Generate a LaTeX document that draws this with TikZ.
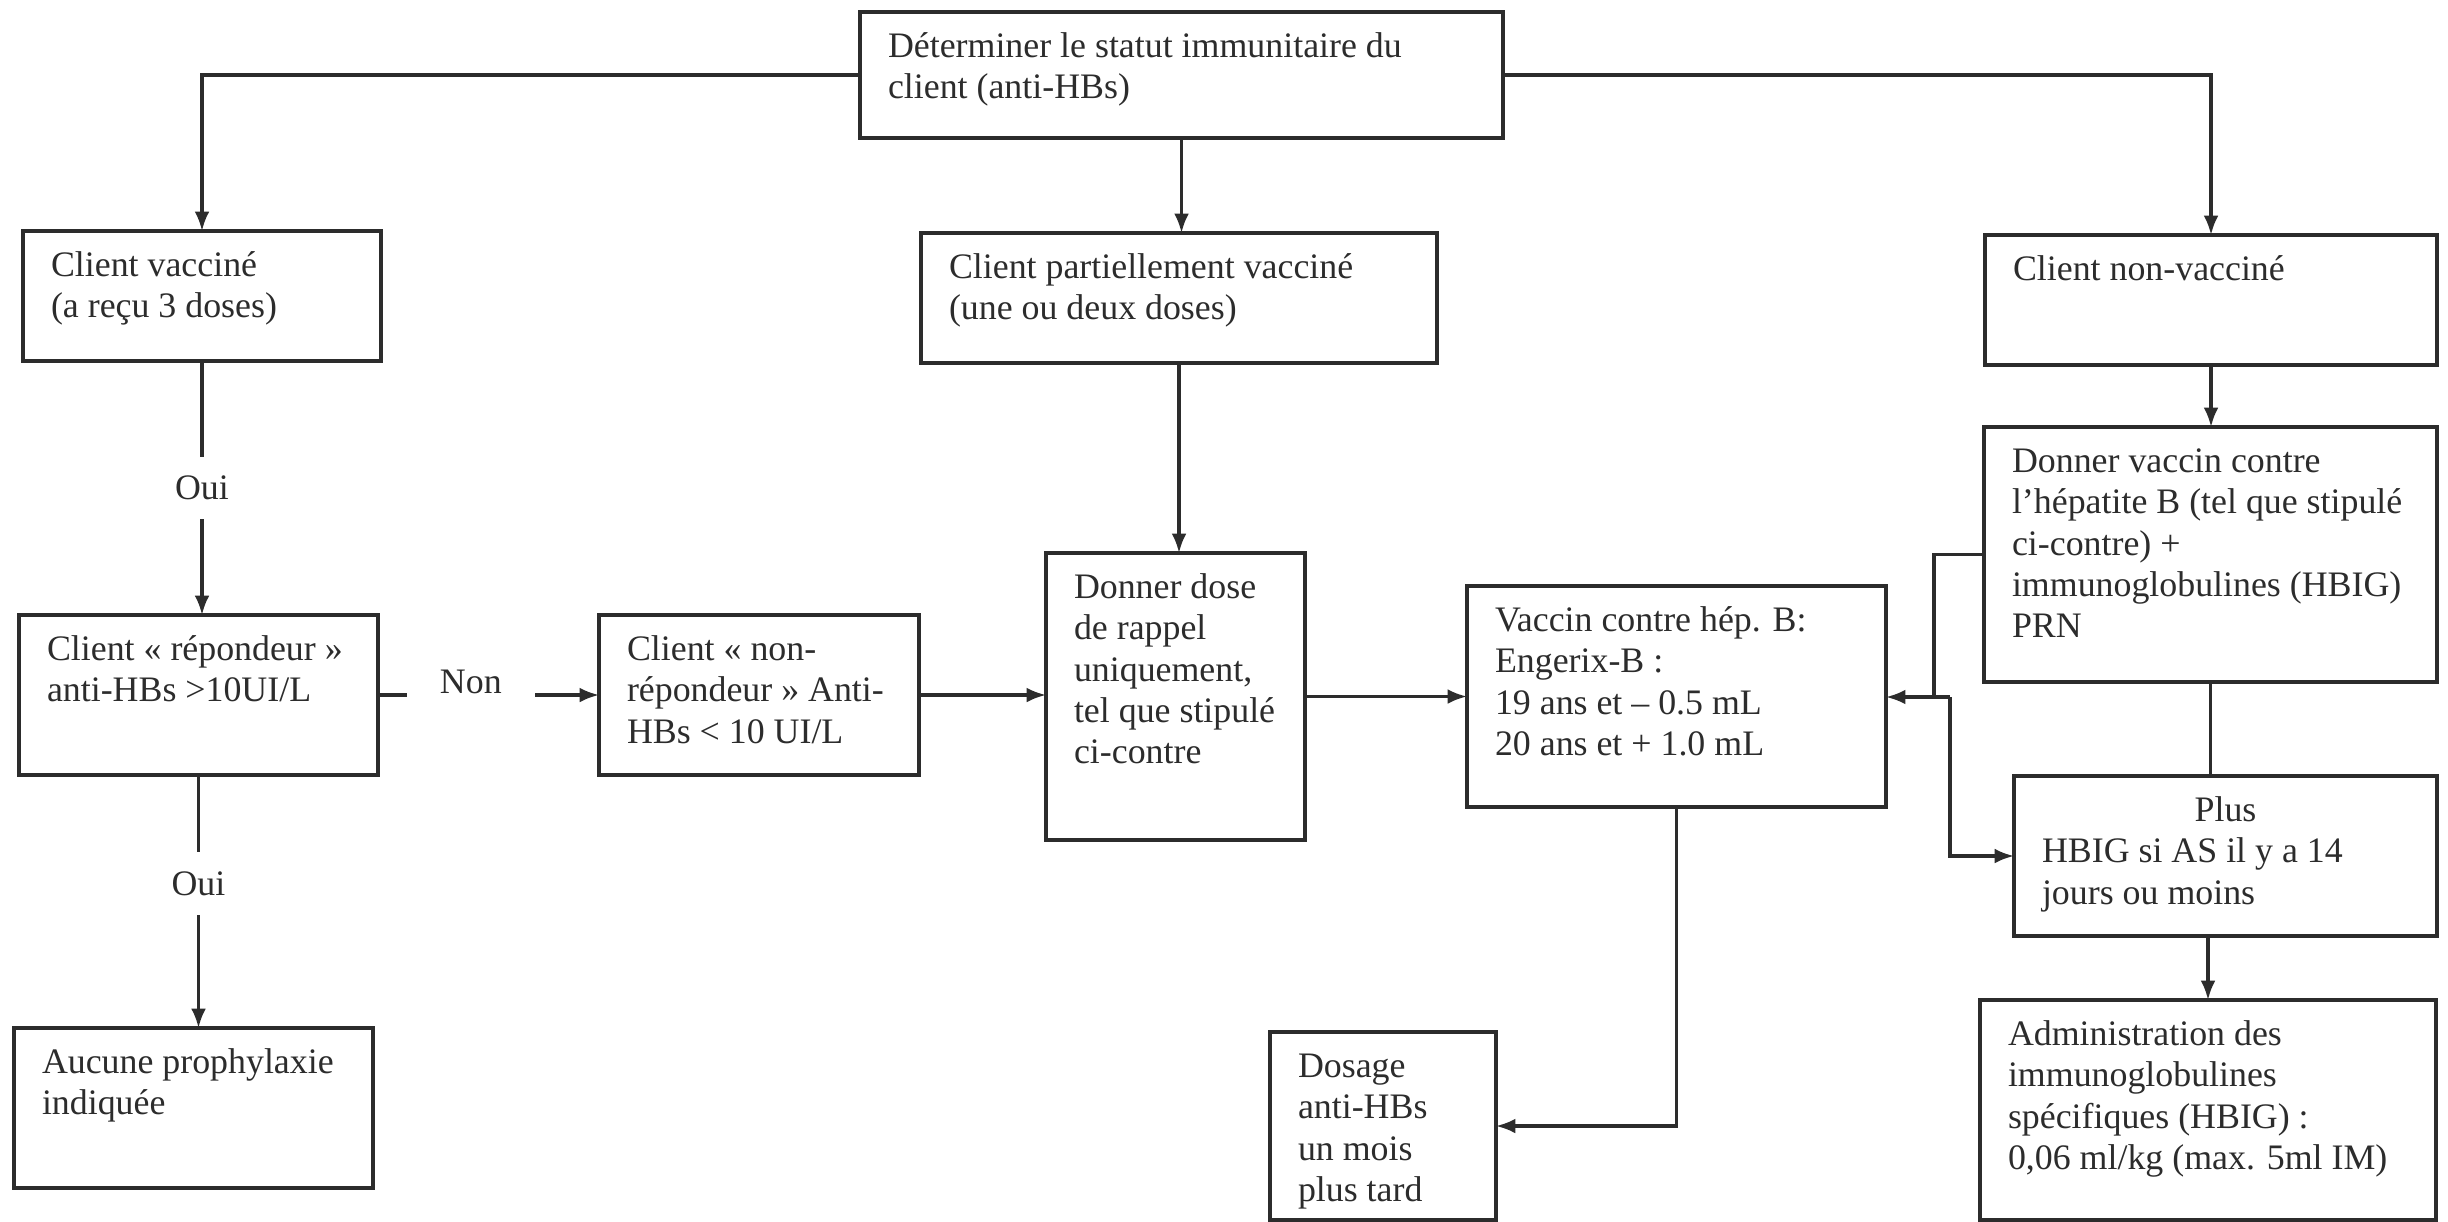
\documentclass[tikz,border=0pt]{standalone}
\usepackage{fontspec}
\setmainfont{Liberation Serif}
\usetikzlibrary{arrows.meta}

\definecolor{ink}{HTML}{2c2c2c}
\newcommand{\boxfont}{\fontsize{10.2pt}{11.7pt}\selectfont}

\tikzset{
  box/.style 2 args={draw=ink, line width=1.15pt, anchor=north west, outer sep=0pt,
    inner xsep=0.28cm, inner ysep=0.17cm, font=\boxfont, text=ink,
    execute at begin node={\begin{minipage}[t][\dimexpr #2cm-0.34cm\relax][t]{\dimexpr #1cm-0.56cm\relax}\boxfont\raggedright\strut},
    execute at end node={\end{minipage}}},
  link/.style={draw=ink, line width=0.9pt},
  arr/.style={link, -{Latex[length=5.5pt,width=4.2pt]}},
  answer/.style={fill=white, font=\boxfont, text=ink, inner xsep=9.4pt, inner ysep=5.5pt}
}

\begin{document}
\begin{tikzpicture}

      \path[use as bounding box, fill=white] (0,0) rectangle (24.48,-12.21);

      \node[box={6.43}{1.26}] (statut)  at (8.60,-0.12)  {Déterminer le statut immunitaire du\\client (anti-HBs)};
      \node[box={3.58}{1.30}] (vac)     at (0.23,-2.31)  {Client vacciné\\(a reçu 3 doses)};
      \node[box={5.16}{1.30}] (part)    at (9.21,-2.33)  {Client partiellement vacciné\\(une ou deux doses)};
      \node[box={4.52}{1.30}] (nonvac)  at (19.85,-2.35) {Client non-vacciné};
      \node[box={4.53}{2.55}] (donvac)  at (19.84,-4.27) {Donner vaccin contre\\l’hépatite B (tel que stipulé\\ci-contre) +\\immunoglobulines (HBIG)\\PRN};
      \node[box={3.59}{1.60}] (repond)  at (0.19,-6.15)  {Client « répondeur »\\anti-HBs >10UI/L};
      \node[box={3.20}{1.60}] (nonrep)  at (5.99,-6.15)  {Client « non-\\répondeur » Anti-\\HBs < 10 UI/L};
      \node[box={2.59}{2.87}] (rappel)  at (10.46,-5.53) {Donner dose\\de rappel\\uniquement,\\tel que stipulé\\ci-contre};
      \node[box={4.19}{2.21}] (engerix) at (14.67,-5.86) {Vaccin contre hép. B:\\Engerix-B :\\19 ans et – 0.5 mL\\20 ans et + 1.0 mL};
      \node[box={4.23}{1.60}] (plus)    at (20.14,-7.76) {\centering Plus\par\raggedright HBIG si AS il y a 14\\jours ou moins};
      \node[box={4.56}{2.20}] (admin)   at (19.80,-10.00) {Administration des\\immunoglobulines\\spécifiques (HBIG) :\\0,06 ml/kg (max. 5ml IM)};
      \node[box={2.26}{1.88}] (dosage)  at (12.70,-10.32) {Dosage\\anti-HBs\\un mois\\plus tard};
      \node[box={3.59}{1.60}] (aucune)  at (0.14,-10.28) {Aucune prophylaxie\\indiquée};

      \coordinate (j1) at (19.34,-6.97);
      \coordinate (j2) at (19.50,-6.97);

      \draw[arr] (statut.west) -| (vac.north);
      \draw[arr] (statut.south) -- (statut.south |- part.north);
      \draw[arr] (statut.east) -| (nonvac.north);

      \draw[arr] (vac.south) -- node[answer] {Oui} (vac.south |- repond.north);
      \draw[arr] (repond.south) -- node[answer, pos=0.43] {Oui} (repond.south |- aucune.north);
      \draw[arr] (repond.east) -- node[answer, pos=0.42, yshift=0.13cm] {Non} (nonrep.west);

      \draw[arr] (nonrep.east) -- (nonrep.east -| rappel.west);
      \draw[arr] (part.south) -- (part.south |- rappel.north);
      \draw[arr] (rappel.east) -- (rappel.east -| engerix.west);
      \draw[arr] (engerix.south) |- (dosage.east);

      \draw[arr] (nonvac.south) -- (nonvac.south |- donvac.north);
      \draw[link] (donvac.south) -- (donvac.south |- plus.north);
      \draw[arr] (admin.north |- plus.south) -- (admin.north);
      \draw[link] (donvac.west) -| (j1);
      \draw[arr] (j2) -- (j2 -| engerix.east);
      \draw[arr] (j2) |- (plus.west);

\end{tikzpicture}
\end{document}
